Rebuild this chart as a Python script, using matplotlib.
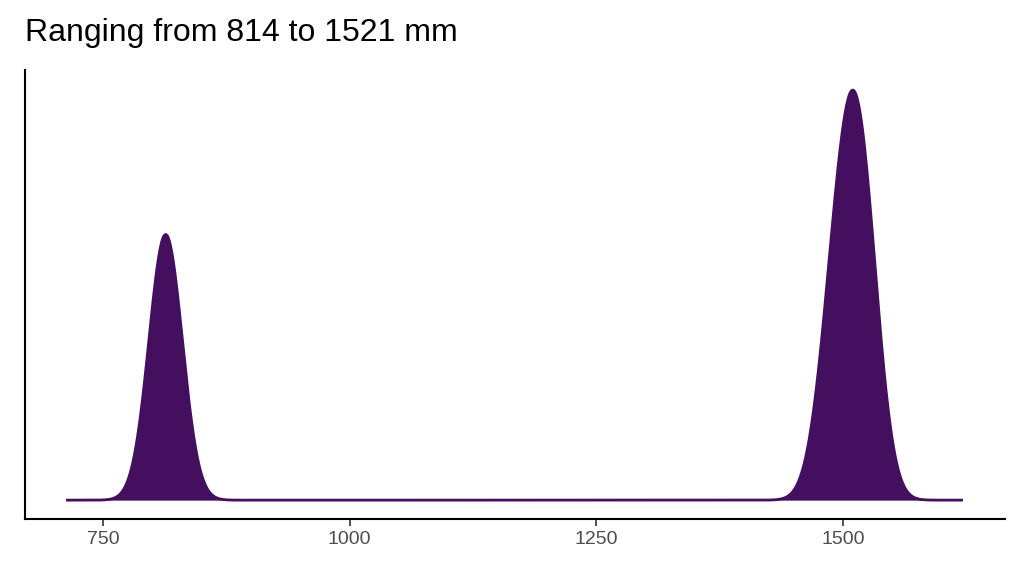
import numpy as np
import matplotlib
matplotlib.use("Agg")
import matplotlib.pyplot as plt

plt.rcParams["font.family"] = ["Liberation Sans", "DejaVu Sans"]

# observations (mm), estimated from the density shape
obs_left = [806, 809, 812, 815, 818, 821]
obs_right = [1482, 1490, 1495, 1500, 1504, 1508, 1511, 1514, 1518, 1521, 1525, 1530]
xticks = [750, 1000, 1250, 1500]
title = "Ranging from 814 to 1521 mm"

data = np.array(obs_left + obs_right, float)
bw = 16.0
grid = np.linspace(714, 1620, 1200)
dens = np.exp(-0.5 * ((grid[:, None] - data[None, :]) / bw) ** 2).sum(1)
dens /= len(data) * bw * np.sqrt(2 * np.pi)

fig = plt.figure(figsize=(10.24, 5.76), dpi=100)
ax = fig.add_axes([25/1024, 1-519/576, 980/1024, 449/576])
col = "#440F5E"
ax.fill_between(grid, dens, 0, color=col, lw=0)
ax.plot(grid, dens, color=col, lw=2)
m = dens.max()
ax.set_ylim(-0.046*m, 1.049*m)
ax.set_xlim(671, 1664)
ax.set_xticks(xticks)
ax.set_xticklabels([str(t) for t in xticks], fontsize=14, color="#4d4d4d")
ax.tick_params(axis="x", length=5, width=1.2, color="#333333")
ax.set_yticks([])
for s in ["top", "right"]:
    ax.spines[s].set_visible(False)
for s in ["left", "bottom"]:
    ax.spines[s].set_linewidth(1.5)
fig.text(25/1024, 1-33/576, title, fontsize=23, va="center", ha="left")
fig.savefig("out.png")
